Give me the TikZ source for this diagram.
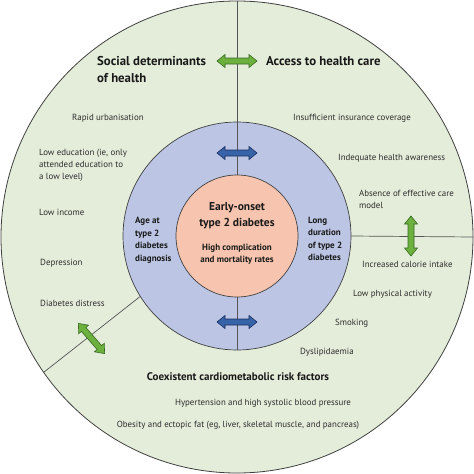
\documentclass[tikz,border=0pt]{standalone}
\usepackage{fontspec}
\setmainfont{PT Sans}
\definecolor{bggreen}{RGB}{228,237,218}
\definecolor{ringblue}{RGB}{188,198,228}
\definecolor{coreorange}{RGB}{247,197,175}
\definecolor{garrow}{RGB}{108,176,62}
\definecolor{gdark}{RGB}{55,105,35}
\definecolor{barrow}{RGB}{55,100,168}
\definecolor{bdark}{RGB}{25,45,95}
\definecolor{linegray}{RGB}{85,85,85}
\definecolor{txtgray}{RGB}{45,45,45}
\newcommand\bodyfnt{\fontsize{8.9}{12}\selectfont}
\newcommand\titlefnt{\fontsize{12.8}{17}\selectfont\bfseries}
\newcommand\midtitlefnt{\fontsize{11}{17}\selectfont\bfseries}
\newcommand\corefnt{\fontsize{11.5}{16}\selectfont\bfseries}
\newcommand\smallbold{\fontsize{9}{12.5}\selectfont\bfseries}
\tikzset{
  dblarr/.pic={\draw[pic actions] (-20,0) -- (-12,-6.5) -- (-12,-3) -- (12,-3) -- (12,-6.5) -- (20,0) -- (12,6.5) -- (12,3) -- (-12,3) -- (-12,6.5) -- cycle;},
  garr/.style={draw=gdark, fill=garrow, line width=0.6pt},
  barr/.style={draw=bdark, fill=barrow, line width=0.6pt},
  txt/.style={font=\bodyfnt, text=txtgray, inner sep=0pt, anchor=west, align=left},
  ttl/.style={font=\titlefnt, text=black!90, inner sep=0pt, anchor=west, align=left},
  sb/.style={font=\smallbold, text=black!90, inner sep=0pt, align=center},
  divider/.style={draw=linegray, line width=0.7pt}
}
\begin{document}
\begin{tikzpicture}[x=1pt,y=-1pt]
\useasboundingbox (0,0) rectangle (474,474);
\fill[white] (0,0) rectangle (474,474);
\node[circle, draw=black!75, fill=bggreen, minimum size=472pt, line width=0.8pt, inner sep=0pt] (outer) at (237,237) {};
\node[circle, draw=black!75, fill=ringblue, minimum size=228pt, line width=0.7pt, inner sep=0pt] (ring) at (237,236) {};
\node[circle, draw=black!75, fill=coreorange, minimum size=122pt, line width=0.7pt, inner sep=0pt] (core) at (237,236) {};
% dividers
\draw[divider] (outer.north) -- (ring.north);
\draw[divider] (ring.north) -- (core.north);
\draw[divider] (ring.south) -- (core.south);
\draw[divider] (ring.east) -- (outer.east);
\draw[divider] (ring.212.6) -- (outer.215.8);
% arrows
\pic[garr] at (237,61) {dblarr};
\pic[barr] at (237,153) {dblarr};
\pic[barr] at (237,322) {dblarr};
\pic[garr, rotate=90] at (411,236) {dblarr};
\pic[garr, rotate=-49] at (91.5,338.5) {dblarr};
% titles
\node[ttl] (sdh) at (97,69.5) {Social determinants\\of health};
\node[ttl] (ahc) at (266,61) {Access to health care};
\node[ttl, font=\midtitlefnt, anchor=center] (ccr) at (238,377) {Coexistent cardiometabolic risk factors};
% left texts
\node[txt] (t1) at (72,118) {Rapid urbanisation};
\node[txt] (t2) at (39,165) {Low education (ie, only\\attended education to\\a low level)};
\node[txt] (t3) at (39,212) {Low income};
\node[txt] (t4) at (40,263) {Depression};
\node[txt] (t5) at (40,303) {Diabetes distress};
% right texts
\node[txt] (r1) at (293,118) {Insufficient insurance coverage};
\node[txt] (r2) at (338,158) {Indequate health awareness};
\node[txt] (r3) at (359,199) {Absence of effective care\\model};
\node[txt] (r4) at (362,264) {Increased calorie intake};
\node[txt] (r5) at (353,294) {Low physical activity};
\node[txt] (r6) at (335,323) {Smoking};
\node[txt] (r7) at (300,352) {Dyslipidaemia};
% bottom texts
\node[txt, anchor=center] (b1) at (263,403) {Hypertension and high systolic blood pressure};
\node[txt, anchor=center] (b2) at (238,425) {Obesity and ectopic fat (eg, liver, skeletal muscle, and pancreas)};
% core
\node[font=\corefnt, text=black!90, inner sep=0pt, align=center] (core1) at (237,216) {Early-onset\\type 2 diabetes};
\node[sb] (core2) at (237,254) {High complication\\and mortality rates};
\node[sb, anchor=west, align=left] (age) at (135,240.5) {Age at\\type 2\\diabetes\\diagnosis};
\node[sb, anchor=west, align=left] (dur) at (308,239) {Long\\duration\\of type 2\\diabetes};
\end{tikzpicture}
\end{document}
